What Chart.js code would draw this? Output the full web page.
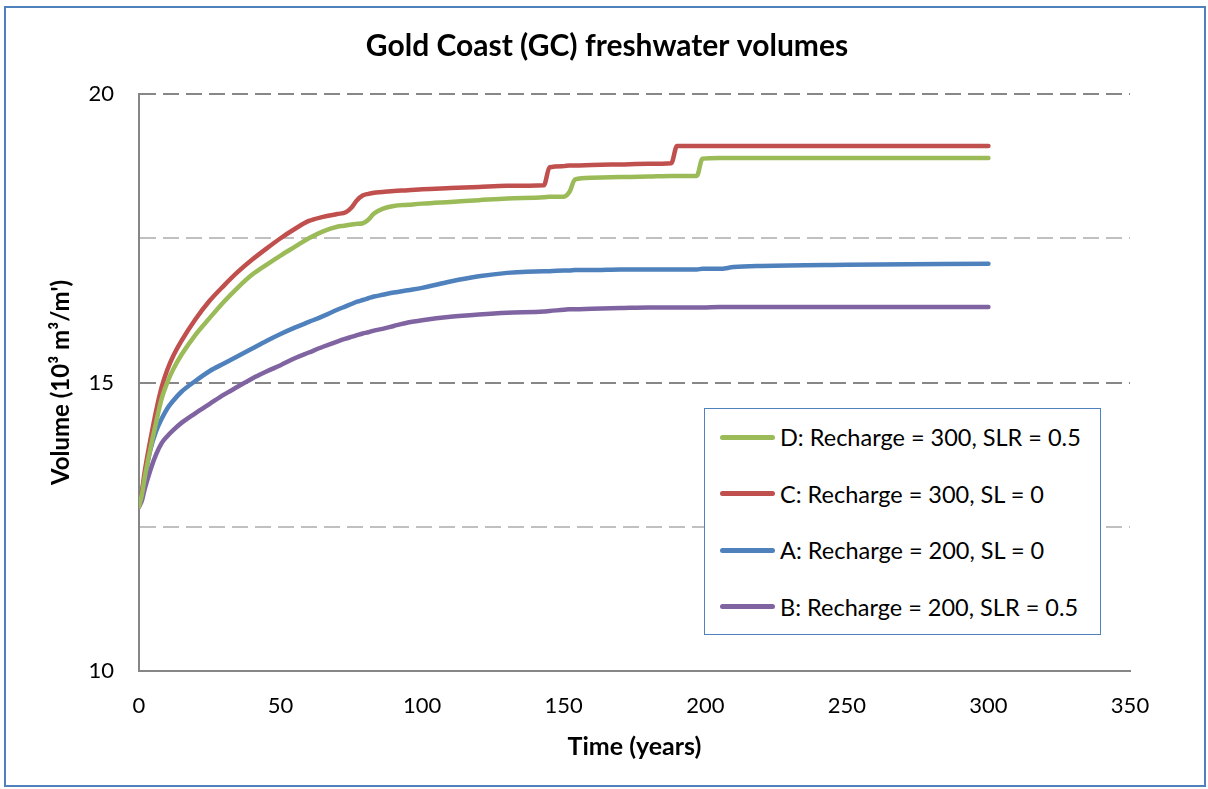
<!DOCTYPE html>
<html>
<head>
<meta charset="utf-8">
<script src="https://cdn.jsdelivr.net/npm/chart.js@4.4.1/dist/chart.umd.min.js"></script>
<style>
  html, body { margin: 0; padding: 0; background: #fff; }
  #wrap { position: relative; width: 1208px; height: 789px; overflow: hidden; }
  #frame { position: absolute; left: 4px; top: 6px; width: 1198px; height: 777px; border: 2px solid #4F81BD; pointer-events: none; }
  #legend { position: absolute; left: 704px; top: 408px; width: 397px; height: 227px; border: 1.5px solid #4F81BD; background: #fff; box-sizing: border-box; font-family: Lato, sans-serif; font-size: 23.5px; color: #000; }
  .item { position: absolute; left: 15px; height: 30px; display: flex; align-items: center; white-space: nowrap; }
  .swatch { width: 55px; height: 5px; border-radius: 3px; margin-right: 5px; }
</style>
</head>
<body>
<div id="wrap">
  <canvas id="chart" width="1208" height="789"></canvas>
  <div id="frame"></div>
  <div id="legend"></div>
</div>
<script>
const times = [0, 1, 2, 4, 6, 8, 10, 12, 15, 20, 25, 30, 35, 40, 45, 50, 55, 60, 65, 70,
  73, 75, 77, 79, 81, 83, 86, 90, 95, 100, 110, 120, 130, 143, 145, 150, 152, 154, 160, 170,
  180, 188, 190, 197, 199, 205, 210, 220, 250, 300];

// D: Recharge = 300, SLR = 0.5
const seriesD = [12.85, 13.05, 13.35, 13.85, 14.3, 14.72, 15.0, 15.22, 15.48, 15.83, 16.12, 16.4, 16.65, 16.87, 17.04, 17.2, 17.35, 17.5, 17.62, 17.7,
  17.72, 17.74, 17.75, 17.76, 17.82, 17.93, 18.01, 18.06, 18.08, 18.1, 18.13, 18.16, 18.19, 18.21, 18.22, 18.22, 18.3, 18.52, 18.55, 18.56,
  18.57, 18.58, 18.58, 18.58, 18.88, 18.89, 18.89, 18.89, 18.89, 18.89];

// C: Recharge = 300, SL = 0
const seriesC = [12.85, 13.1, 13.45, 14.0, 14.5, 14.92, 15.22, 15.45, 15.72, 16.1, 16.42, 16.68, 16.92, 17.13, 17.32, 17.5, 17.66, 17.8, 17.87, 17.92,
  17.95, 18.03, 18.16, 18.24, 18.27, 18.29, 18.3, 18.32, 18.33, 18.35, 18.37, 18.39, 18.41, 18.42, 18.73, 18.75, 18.76, 18.76, 18.77, 18.78,
  18.79, 18.8, 19.1, 19.1, 19.1, 19.1, 19.1, 19.1, 19.1, 19.1];

// A: Recharge = 200, SL = 0
const seriesA = [12.85, 13.1, 13.35, 13.83, 14.15, 14.37, 14.55, 14.68, 14.84, 15.03, 15.2, 15.33, 15.46, 15.59, 15.72, 15.84, 15.95, 16.05, 16.15, 16.26,
  16.32, 16.36, 16.4, 16.43, 16.46, 16.49, 16.52, 16.56, 16.6, 16.64, 16.75, 16.84, 16.9, 16.93, 16.93, 16.94, 16.94, 16.95, 16.95, 16.96,
  16.96, 16.96, 16.96, 16.96, 16.97, 16.97, 17.0, 17.02, 17.04, 17.06];

// B: Recharge = 200, SLR = 0.5
const seriesB = [12.85, 12.95, 13.15, 13.48, 13.75, 13.95, 14.07, 14.17, 14.3, 14.47, 14.63, 14.79, 14.93, 15.07, 15.19, 15.3, 15.42, 15.52, 15.62, 15.71,
  15.76, 15.79, 15.82, 15.85, 15.87, 15.9, 15.93, 15.98, 16.04, 16.08, 16.14, 16.18, 16.21, 16.23, 16.24, 16.26, 16.27, 16.27, 16.28, 16.29,
  16.3, 16.3, 16.3, 16.3, 16.3, 16.31, 16.31, 16.31, 16.31, 16.31];

const seriesNames = ['D: Recharge = 300, SLR = 0.5', 'C: Recharge = 300, SL = 0', 'A: Recharge = 200, SL = 0', 'B: Recharge = 200, SLR = 0.5'];
const seriesColors = ['#9BBB59', '#C0504D', '#4F81BD', '#8064A2'];
const yTickLabels = [10, 15, 20];
const titleText = 'Gold Coast (GC) freshwater volumes';

const allSeries = [seriesD, seriesC, seriesA, seriesB];

Chart.defaults.font.family = 'Lato, sans-serif';
Chart.defaults.color = '#000';

// title centred on the whole frame, not on the plot
const centerTitle = {
  id: 'centerTitle',
  afterDraw(chart) {
    const ctx = chart.ctx;
    ctx.save();
    ctx.font = 'bold 30px Lato, sans-serif';
    ctx.fillStyle = '#000';
    ctx.textAlign = 'center';
    ctx.textBaseline = 'middle';
    ctx.fillText(titleText, 607, 46);
    ctx.restore();
  }
};

const chart = new Chart(document.getElementById('chart'), {
  type: 'line',
  data: {
    datasets: allSeries.map((vals, i) => ({
      label: seriesNames[i],
      data: times.map((t, j) => ({ x: t, y: vals[j] })),
      borderColor: seriesColors[i],
      backgroundColor: seriesColors[i],
      borderWidth: 4.5,
      pointRadius: 0,
      cubicInterpolationMode: 'monotone',
      borderCapStyle: 'round',
      borderJoinStyle: 'round',
      fill: false
    }))
  },
  options: {
    responsive: false,
    animation: false,
    devicePixelRatio: 1,
    layout: { padding: { left: 0, right: 78, top: 94, bottom: 0 } },
    plugins: {
      legend: { display: false },
      tooltip: { enabled: false },
      title: { display: false }
    },
    scales: {
      x: {
        type: 'linear',
        min: 0,
        max: 350,
        ticks: { stepSize: 50, padding: 22, font: { size: 22 }, color: '#000' },
        grid: { display: false, drawTicks: false },
        border: { display: true, color: '#868686', width: 2 },
        title: {
          display: true,
          text: 'Time (years)',
          font: { size: 25, weight: 'bold' },
          color: '#000',
          padding: { top: 0, bottom: 27 }
        },
        afterFit: scale => { scale.height = 118; }
      },
      y: {
        min: 10,
        max: 20,
        ticks: {
          stepSize: 2.5,
          padding: 25,
          font: { size: 22 },
          color: '#000',
          callback: v => yTickLabels.includes(v) ? v : ''
        },
        grid: {
          drawTicks: false,
          lineWidth: 2,
          color: ctx => ctx.tick.value === 10 ? 'rgba(0,0,0,0)' : (ctx.tick.value % 5 === 0 ? '#878787' : '#C0C0C0')
        },
        border: { display: true, color: '#868686', width: 2, dash: [16, 7] },
        title: {
          display: true,
          text: "Volume (10\u00B3 m\u00B3/m')",
          font: { size: 24, weight: 'bold' },
          color: '#000',
          padding: { top: 47, bottom: 0 }
        },
        afterFit: scale => { scale.width = 139; }
      }
    }
  },
  plugins: [centerTitle]
});

// legend box inside the plot, same order as the series
const legend = document.getElementById('legend');
seriesNames.forEach((name, i) => {
  const row = document.createElement('div');
  row.className = 'item';
  row.style.top = (13 + i * 56.5) + 'px';
  const sw = document.createElement('span');
  sw.className = 'swatch';
  sw.style.background = seriesColors[i];
  const txt = document.createElement('span');
  txt.textContent = name;
  row.appendChild(sw);
  row.appendChild(txt);
  legend.appendChild(row);
});
</script>
</body>
</html>
